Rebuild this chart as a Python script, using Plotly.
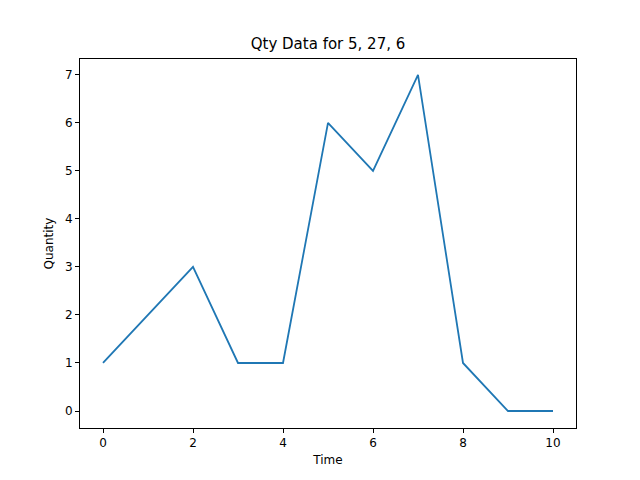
import plotly.graph_objects as go

time = [0, 1, 2, 3, 4, 5, 6, 7, 8, 9, 10]
quantity = [1, 2, 3, 1, 1, 6, 5, 7, 1, 0, 0]

fig = go.Figure(go.Scatter(x=time, y=quantity, mode='lines',
                           line=dict(color='#1f77b4', width=1.8)))

axis_style = dict(showgrid=False, zeroline=False, showline=True, mirror=True,
                  linecolor='black', linewidth=1, ticks='outside', ticklen=4,
                  tickcolor='black', tickfont=dict(size=12, color='black'))

fig.update_layout(
    width=640, height=480,
    paper_bgcolor='white', plot_bgcolor='white',
    font=dict(family='DejaVu Sans', color='black'),
    title=dict(text='Qty Data for 5, 27, 6', x=0.5, xanchor='center',
               y=0.925, yanchor='middle', font=dict(size=15)),
    margin=dict(l=72, r=72, t=51, b=60),
    showlegend=False,
)
fig.update_xaxes(range=[-0.511, 10.511], dtick=2,
                 title=dict(text='Time', font=dict(size=12), standoff=6),
                 **axis_style)
fig.update_yaxes(range=[-0.354, 7.33], dtick=1,
                 title=dict(text='Quantity', font=dict(size=12), standoff=8),
                 **axis_style)

fig.write_html("out.html")
